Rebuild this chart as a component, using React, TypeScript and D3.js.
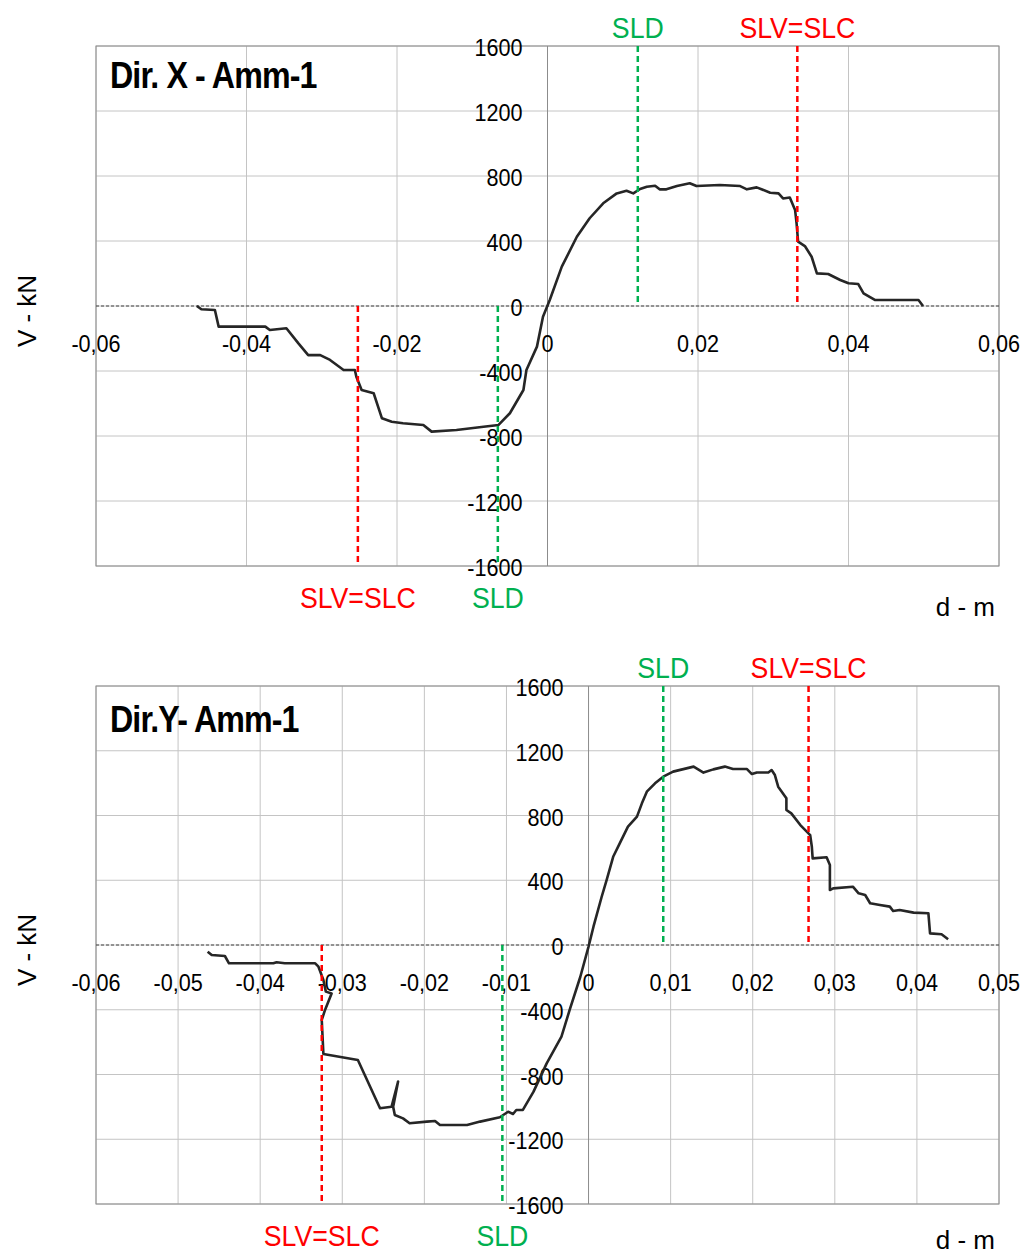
import React from "react";
import * as d3 from "d3";

// ---------- DATA ----------
const xTicksTop = [-0.06, -0.04, -0.02, 0, 0.02, 0.04, 0.06];
const xTickLabelsTop = ["-0,06", "-0,04", "-0,02", "0", "0,02", "0,04", "0,06"];
const xTicksBottom = [-0.06, -0.05, -0.04, -0.03, -0.02, -0.01, 0, 0.01, 0.02, 0.03, 0.04, 0.05];
const xTickLabelsBottom = ["-0,06", "-0,05", "-0,04", "-0,03", "-0,02", "-0,01", "0", "0,01", "0,02", "0,03", "0,04", "0,05"];
const yTicks = [-1600, -1200, -800, -400, 0, 400, 800, 1200, 1600];
const yTickLabels = ["-1600", "-1200", "-800", "-400", "0", "400", "800", "1200", "1600"];

const dirXd = [-0.0466, -0.046, -0.0442, -0.0437, -0.0375, -0.0369, -0.0347, -0.0331, -0.0318, -0.0302, -0.0289, -0.0271, -0.0256, -0.0254, -0.0247, -0.0231, -0.022, -0.0207, -0.0192, -0.0165, -0.0154, -0.0121, -0.0085, -0.0065, -0.005, -0.0032, -0.0028, -0.0014, -0.0006, 0.0003, 0.0019, 0.0039, 0.0056, 0.0074, 0.0092, 0.0105, 0.0114, 0.0123, 0.0132, 0.0143, 0.0149, 0.0158, 0.0172, 0.0189, 0.0198, 0.0229, 0.0256, 0.0265, 0.0278, 0.0296, 0.0307, 0.0313, 0.0322, 0.0329, 0.0331, 0.0333, 0.0342, 0.0351, 0.0358, 0.0373, 0.0389, 0.04, 0.0413, 0.042, 0.0435, 0.0493, 0.0499];
const dirXV = [0, -20, -25, -127, -127, -148, -137, -230, -302, -302, -332, -394, -394, -435, -517, -537, -691, -712, -722, -732, -773, -763, -743, -732, -660, -517, -394, -250, -66, 37, 242, 426, 540, 632, 693, 709, 693, 720, 734, 740, 718, 718, 738, 755, 738, 745, 738, 718, 730, 697, 693, 662, 668, 591, 509, 396, 369, 303, 201, 197, 160, 140, 135, 78, 37, 37, 0];

const dirYd = [-0.0464, -0.0459, -0.0443, -0.0438, -0.0384, -0.038, -0.037, -0.0333, -0.0329, -0.0323, -0.032, -0.0313, -0.0321, -0.0325, -0.0323, -0.0281, -0.0254, -0.024, -0.0232, -0.0238, -0.0236, -0.0226, -0.0218, -0.0197, -0.0187, -0.0181, -0.0148, -0.0132, -0.0108, -0.0098, -0.0092, -0.0088, -0.008, -0.0067, -0.0051, -0.0033, -0.0023, -0.001, 0.0, 0.0006, 0.0016, 0.0022, 0.003, 0.0038, 0.0048, 0.0059, 0.0065, 0.0071, 0.0081, 0.0091, 0.0103, 0.0128, 0.014, 0.0152, 0.0166, 0.0176, 0.0193, 0.0199, 0.0205, 0.0219, 0.0223, 0.0227, 0.0231, 0.0241, 0.0241, 0.0247, 0.0258, 0.027, 0.0272, 0.0273, 0.029, 0.0294, 0.0294, 0.0298, 0.0322, 0.0329, 0.0337, 0.0343, 0.0355, 0.0367, 0.0371, 0.0379, 0.0396, 0.0414, 0.0416, 0.043, 0.0438];
const dirYV = [-41, -62, -68, -113, -113, -107, -113, -113, -134, -216, -288, -299, -401, -463, -673, -710, -1009, -999, -844, -1000, -1050, -1071, -1101, -1091, -1087, -1112, -1112, -1091, -1064, -1030, -1044, -1019, -1019, -906, -731, -566, -401, -196, -10, 113, 298, 401, 545, 628, 731, 793, 875, 947, 999, 1040, 1071, 1102, 1065, 1085, 1102, 1087, 1087, 1056, 1066, 1066, 1081, 1050, 978, 906, 834, 813, 741, 679, 607, 535, 542, 494, 340, 350, 360, 319, 309, 258, 247, 237, 210, 216, 200, 196, 72, 66, 35];

const markerLabels = ["SLD", "SLV=SLC", "SLV=SLC", "SLD"];
const markerSides = ["top", "top", "bottom", "bottom"];
const markersX = [0.012, 0.0332, -0.0252, -0.0066];
const markersY = [0.0091, 0.0268, -0.0325, -0.0105];

const GREEN = "#00b050";
const RED = "#ff0000";
const FONT = "'Liberation Sans', Arial, sans-serif";

type TProps = {
  x: number; y: number; size: number; sx?: number; anchor?: string; fill?: string;
  weight?: string | number; rotate?: number; ls?: number; children: React.ReactNode;
};
function T({ x, y, size, sx = 1, anchor = "start", fill = "#000", weight = "normal", rotate = 0, ls = 0, children }: TProps) {
  return (
    <text
      transform={`translate(${x},${y}) rotate(${rotate}) scale(${sx},1)`}
      fontSize={size}
      fontFamily={FONT}
      fontWeight={weight}
      textAnchor={anchor}
      fill={fill}
      letterSpacing={ls}
    >
      {children}
    </text>
  );
}

type ChartProps = {
  top: number; bottom: number; title: string; titleY: number; unitY: number;
  xDomain: [number, number]; xTicks: number[]; xLabels: string[];
  d: number[]; v: number[]; markers: number[];
};

function Chart({ top, bottom, title, titleY, unitY, xDomain, xTicks, xLabels, d, v, markers }: ChartProps) {
  const x0 = 96, x1 = 999;
  const xs = d3.scaleLinear().domain(xDomain).range([x0, x1]);
  const ys = d3.scaleLinear().domain([-1600, 1600]).range([bottom, top]);
  const pts: [number, number][] = d.map((di, i) => [di, v[i]]);
  const line = d3.line<[number, number]>().x(p => xs(p[0])).y(p => ys(p[1]));
  const zx = xs(0), zy = ys(0);
  return (
    <g>
      {yTicks.map(t => (
        <line key={"gy" + t} x1={x0} x2={x1} y1={ys(t)} y2={ys(t)} stroke="#c4c4c4" strokeWidth={1} />
      ))}
      {xTicks.map(t => (
        <line key={"gx" + t} x1={xs(t)} x2={xs(t)} y1={top} y2={bottom} stroke={t === 0 ? "#8c8c8c" : "#c4c4c4"} strokeWidth={1} />
      ))}
      <rect x={x0} y={top} width={x1 - x0} height={bottom - top} fill="none" stroke="#8c8c8c" strokeWidth={1} />
      <line x1={x0} x2={x1} y1={zy} y2={zy} stroke="#444" strokeWidth={1} strokeDasharray="3,2" />
      <T x={110} y={titleY} size={37} sx={0.87} weight="bold" ls={-1}>{title}</T>
      {yTicks.map((t, i) => (
        <T key={"yl" + t} x={zx - 25} y={ys(t) + 10} size={24} sx={0.9} anchor="end">{yTickLabels[i]}</T>
      ))}
      {xTicks.map((t, i) => (
        <T key={"xl" + t} x={xs(t)} y={zy + 46} size={24} sx={0.9} anchor="middle">{xLabels[i]}</T>
      ))}
      <path d={line(pts) || ""} fill="none" stroke="#262626" strokeWidth={2.6} strokeLinejoin="round" />
      {markers.map((m, i) => {
        const col = markerLabels[i] === "SLD" ? GREEN : RED;
        const isTop = markerSides[i] === "top";
        return (
          <g key={"m" + i}>
            <line x1={xs(m)} x2={xs(m)} y1={isTop ? top : zy} y2={isTop ? zy : bottom} stroke={col} strokeWidth={2.5} strokeDasharray="6,4" />
            <T x={xs(m)} y={isTop ? top - 8 : bottom + 42} size={30} sx={0.89} anchor="middle" fill={col}>{markerLabels[i]}</T>
          </g>
        );
      })}
      <T x={36} y={zy + 5} size={26} rotate={-90} anchor="middle">V - kN</T>
      <T x={995} y={unitY} size={26} anchor="end">d - m</T>
    </g>
  );
}

export default function App() {
  return (
    <svg width={1025} height={1256} style={{ position: "absolute", left: 0, top: 0, background: "#fff" }}>
      <rect x={0} y={0} width={1025} height={1256} fill="#fff" />
      <Chart top={46} bottom={566} title="Dir. X - Amm-1" titleY={88} unitY={616}
        xDomain={[-0.06, 0.06]} xTicks={xTicksTop} xLabels={xTickLabelsTop}
        d={dirXd} v={dirXV} markers={markersX} />
      <Chart top={686} bottom={1204} title="Dir.Y- Amm-1" titleY={732} unitY={1249}
        xDomain={[-0.06, 0.05]} xTicks={xTicksBottom} xLabels={xTickLabelsBottom}
        d={dirYd} v={dirYV} markers={markersY} />
    </svg>
  );
}
